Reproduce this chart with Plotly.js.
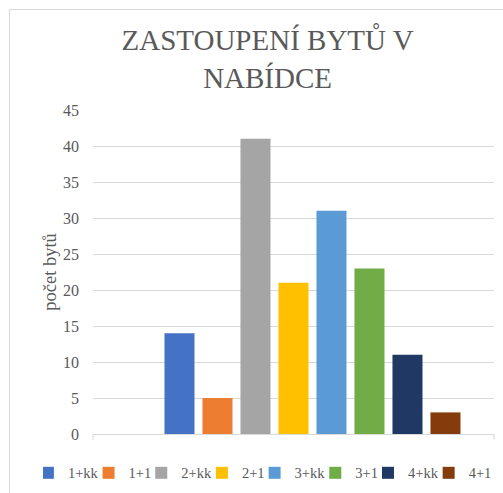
<!DOCTYPE html>
<html>
<head>
<meta charset="utf-8">
<script src="https://cdn.plot.ly/plotly-3.0.1.min.js"></script>
<style>
  html, body { margin: 0; padding: 0; overflow: hidden; background: #fff; }
  #wrap { position: relative; width: 503px; height: 493px; overflow: hidden; }
  #chart { position: absolute; left: 0; top: 0; width: 503px; height: 493px; }
  #frame { position: absolute; left: 9px; top: 9px; width: 600px; height: 600px;
           border: 1px solid #d9d9d9; pointer-events: none; box-sizing: border-box; }
</style>
</head>
<body>
<div id="wrap">
  <div id="chart"></div>
  <div id="frame"></div>
</div>
<script>
// Data
const category = ['nabídka'];
const seriesNames = ['1+kk', '1+1', '2+kk', '2+1', '3+kk', '3+1', '4+kk', '4+1'];
const seriesValues = [14, 5, 41, 21, 31, 23, 11, 3];
const seriesColors = ['#4472C4', '#ED7D31', '#A5A5A5', '#FFC000', '#5B9BD5', '#70AD47', '#1F3864', '#843C0C'];
const yTickValues = [0, 5, 10, 15, 20, 25, 30, 35, 40, 45];

const textColor = '#595959';
const fontFamily = 'Liberation Serif';

const traces = seriesNames.map((name, i) => ({
  type: 'bar',
  name: name,
  x: category,
  y: [seriesValues[i]],
  marker: { color: seriesColors[i], line: { width: 0 } },
  hoverinfo: 'skip'
}));

const layout = {
  width: 503,
  height: 493,
  margin: { l: 93, r: 9, t: 110, b: 59, autoexpand: false },
  paper_bgcolor: '#ffffff',
  plot_bgcolor: '#ffffff',
  font: { family: fontFamily, color: textColor, size: 15 },
  title: {
    text: 'ZASTOUPENÍ BYTŮ V<br>NABÍDCE',
    font: { family: fontFamily, size: 29, color: textColor },
    xref: 'container', x: 0.532, xanchor: 'center',
    yref: 'container', y: 0.898, yanchor: 'top'
  },
  barmode: 'group',
  bargap: 0.2,
  bargroupgap: 0.21,
  showlegend: true,
  legend: {
    orientation: 'h',
    xref: 'paper', x: -0.125, xanchor: 'left',
    yref: 'paper', y: -0.12, yanchor: 'middle',
    font: { family: fontFamily, size: 14.5, color: textColor },
    indentation: -15,
    itemclick: false, itemdoubleclick: false
  },
  xaxis: {
    type: 'category',
    range: [-0.5776, 0.4777],
    showticklabels: false,
    showgrid: false,
    zeroline: false,
    showline: true,
    linecolor: '#d9d9d9',
    linewidth: 1,
    ticks: '',
    fixedrange: true
  },
  yaxis: {
    range: [0, 45],
    tickvals: yTickValues,
    ticktext: yTickValues.map(String),
    showgrid: true,
    gridcolor: '#d9d9d9',
    gridwidth: 1,
    zeroline: false,
    showline: false,
    ticks: '',
    ticklabelstandoff: 13,
    tickfont: { family: fontFamily, size: 16, color: textColor },
    title: {
      text: 'počet bytů',
      font: { family: fontFamily, size: 18.5, color: textColor },
      standoff: 1
    },
    fixedrange: true
  },
  shapes: [
    { type: 'line', xref: 'paper', yref: 'paper', x0: 0, x1: 0, y0: 0, y1: -0.018,
      line: { color: '#d9d9d9', width: 1 } },
    { type: 'line', xref: 'paper', yref: 'paper', x0: 1, x1: 1, y0: 0, y1: -0.018,
      line: { color: '#d9d9d9', width: 1 } }
  ]
};

Plotly.newPlot('chart', traces, layout, { displayModeBar: false, staticPlot: true });
</script>
</body>
</html>
